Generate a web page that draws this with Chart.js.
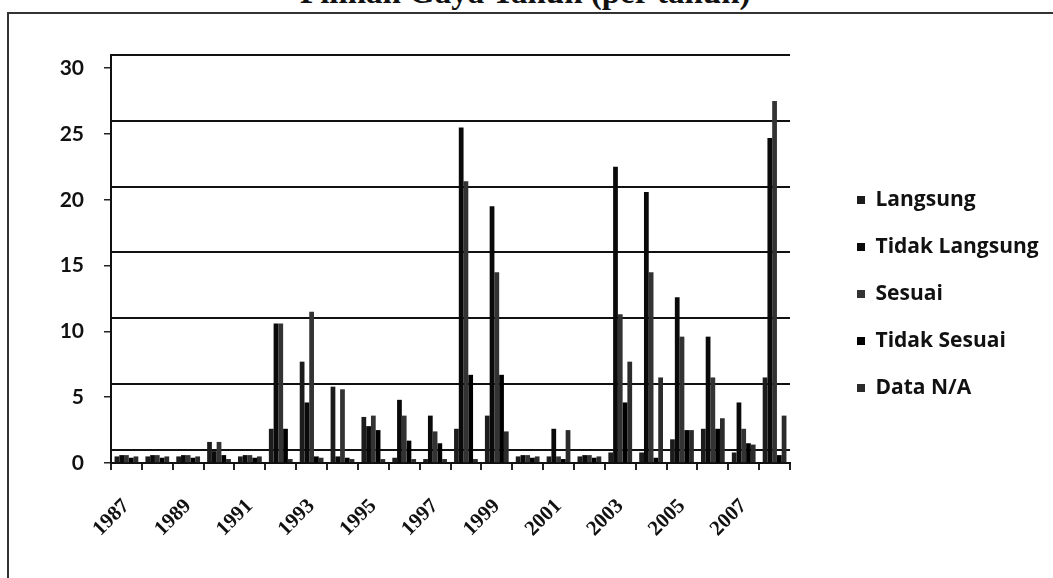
<!DOCTYPE html>
<html>
<head>
<meta charset="utf-8">
<title>Gaya Tahun</title>
<script src="https://cdn.jsdelivr.net/npm/chart.js@4.4.1/dist/chart.umd.min.js"></script>
<style>
    html, body { margin: 0; padding: 0; background: #fff; overflow: hidden; }
    #wrap { position: relative; width: 1053px; height: 578px; overflow: hidden; }
    #frame {
        position: absolute; left: 7px; top: 12px; width: 1100px; height: 600px;
        border-top: 2px solid #333; border-left: 2px solid #333;
    }
    #title {
        position: absolute; left: 300px; top: -26px; line-height: 40px;
        font: bold 33px "Liberation Serif", serif; color: #111; white-space: nowrap;
    }
    #chart { position: absolute; left: 0; top: 0; }
</style>
</head>
<body>
<div id="wrap">
    <div id="frame"></div>
    <div id="title">Pilihan Gaya Tahun (per tahun)</div>
    <canvas id="chart" width="1053" height="578"></canvas>
</div>
<script>
// Years on the x axis (labels shown every other year)
var years = ['1987', '1988', '1989', '1990', '1991', '1992', '1993', '1994', '1995', '1996', '1997',
    '1998', '1999', '2000', '2001', '2002', '2003', '2004', '2005', '2006', '2007', '2008'];

// Series values
var langsung      = [0.5, 0.5, 0.5, 1.6, 0.5, 2.6, 7.7, 5.8, 3.5, 0.4, 0.3, 2.6, 3.6, 0.5, 0.5, 0.5, 0.8, 0.8, 1.8, 2.6, 0.8, 6.5];
var tidakLangsung = [0.6, 0.6, 0.6, 0.9, 0.6, 10.6, 4.6, 0.5, 2.8, 4.8, 3.6, 25.5, 19.5, 0.6, 2.6, 0.6, 22.5, 20.6, 12.6, 9.6, 4.6, 24.7];
var sesuai        = [0.6, 0.6, 0.6, 1.6, 0.6, 10.6, 11.5, 5.6, 3.6, 3.6, 2.4, 21.4, 14.5, 0.6, 0.5, 0.6, 11.3, 14.5, 9.6, 6.5, 2.6, 27.5];
var tidakSesuai   = [0.4, 0.4, 0.4, 0.6, 0.4, 2.6, 0.5, 0.4, 2.5, 1.7, 1.5, 6.7, 6.7, 0.4, 0.3, 0.4, 4.6, 0.4, 2.5, 2.6, 1.5, 0.6];
var dataNA        = [0.5, 0.5, 0.5, 0.3, 0.5, 0.3, 0.4, 0.3, 0.3, 0.3, 0.3, 0.3, 2.4, 0.5, 2.5, 0.5, 7.7, 6.5, 2.5, 3.4, 1.4, 3.6];

// Tick labels of the value axis, and where the (shifted) gridlines sit
var yTickValues = [0, 5, 10, 15, 20, 25, 30];
var yGridValues = [1, 6, 11, 16, 21, 26, 31];

var seriesNames = ['Langsung', 'Tidak Langsung', 'Sesuai', 'Tidak Sesuai', 'Data N/A'];
var seriesData = [langsung, tidakLangsung, sesuai, tidakSesuai, dataNA];
var seriesColors = ['#1c1c1c', '#0a0a0a', '#333333', '#000000', '#2b2b2b'];

/**
 * Build the dataset list from the series arrays
 * @returns {Array} datasets
 */
function buildDatasets() {
    return seriesNames.map(function(name, i) {
        return {
            label: name,
            data: seriesData[i],
            backgroundColor: seriesColors[i],
            borderWidth: 0,
            categoryPercentage: 0.77,
            barPercentage: 1.0
        };
    });
}

function toTicks(values) {
    return values.map(function(v) {
        return {value: v};
    });
}

// The x labels are clipped to the axis box; let them run into the bottom padding
var labelRoom = {
    id: 'labelRoom',
    afterLayout: function(chart) {
        chart.scales.x.bottom = chart.height;
    }
};

var ctx = document.getElementById('chart').getContext('2d');
var chart = new Chart(ctx, {
    type: 'bar',
    data: {
        labels: years,
        datasets: buildDatasets()
    },
    plugins: [labelRoom],
    options: {
        responsive: false,
        animation: false,
        layout: {
            padding: {top: 55, bottom: 45, left: 0, right: 5}
        },
        plugins: {
            title: {display: false},
            tooltip: {enabled: false},
            legend: {
                position: 'right',
                align: 'center',
                // Layout would cap it at a quarter of the width otherwise
                maxWidth: 217,
                labels: {
                    boxWidth: 8,
                    boxHeight: 8,
                    padding: 26,
                    color: '#111',
                    font: {family: 'Open Sans', weight: 'bold', size: 21}
                }
            }
        },
        scales: {
            x: {
                type: 'category',
                grid: {
                    display: true,
                    drawOnChartArea: false,
                    drawTicks: true,
                    tickLength: 7,
                    color: '#222',
                    lineWidth: 2,
                    offset: true
                },
                border: {display: true, color: '#111', width: 2},
                ticks: {
                    autoSkip: false,
                    maxRotation: 45,
                    minRotation: 45,
                    padding: 24,
                    color: '#111',
                    font: {family: 'Liberation Serif', weight: 'bold', size: 21},
                    callback: function(value, index) {
                        // Only every other year gets a label
                        return index % 2 === 0 ? years[index] : '';
                    }
                },
                afterFit: function(scale) {
                    scale.height = 70;
                }
            },
            y: {
                type: 'linear',
                position: 'left',
                min: 0,
                max: 31,
                afterBuildTicks: function(scale) {
                    scale.ticks = toTicks(yTickValues);
                },
                grid: {
                    display: true,
                    drawOnChartArea: false,
                    drawTicks: true,
                    tickLength: 7,
                    color: '#222',
                    lineWidth: 1.5
                },
                border: {display: true, color: '#111', width: 2},
                ticks: {
                    padding: 20,
                    color: '#111',
                    font: {family: 'Lato', weight: 'bold', size: 21}
                },
                afterFit: function(scale) {
                    scale.width = 111;
                }
            },
            // Gridlines of the original are shifted one unit up from the tick labels
            yg: {
                type: 'linear',
                position: 'left',
                min: 0,
                max: 31,
                afterBuildTicks: function(scale) {
                    scale.ticks = toTicks(yGridValues);
                },
                grid: {
                    display: true,
                    drawOnChartArea: true,
                    drawTicks: false,
                    color: '#111',
                    lineWidth: 2
                },
                border: {display: false},
                ticks: {display: false},
                afterFit: function(scale) {
                    scale.width = 0;
                }
            },
            // Empty spacer between the plot and the legend
            yr: {
                type: 'linear',
                position: 'right',
                min: 0,
                max: 31,
                grid: {display: false},
                border: {display: false},
                ticks: {display: false},
                afterFit: function(scale) {
                    scale.width = 41;
                }
            }
        }
    }
});
</script>
</body>
</html>
